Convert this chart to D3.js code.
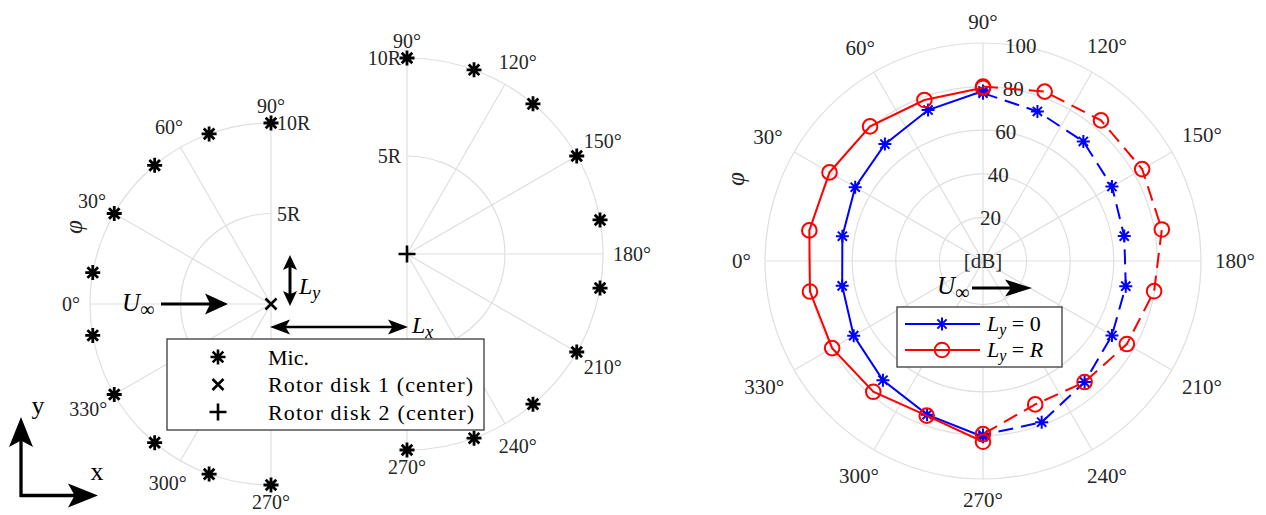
<!DOCTYPE html>
<html>
<head>
<meta charset="utf-8">
<script src="https://cdn.jsdelivr.net/npm/d3@7"></script>
<style>
  body { margin: 0; background: #fff; }
  text { font-family: "Liberation Serif", "Times New Roman", serif; }
</style>
</head>
<body>
<svg id="fig" width="1266" height="515"></svg>
<script>
// ---- data ----
var micAnglesA = [270, 290, 310, 330, 350, 10, 30, 50, 70, 90];
var micAnglesB = [90, 110, 130, 150, 170, 190, 210, 230, 250, 270];
var thetaTicksA = [270, 300, 330, 0, 30, 60, 90];
var thetaTicksB = [90, 120, 150, 180, 210, 240, 270];
var rTicksDisk = [5, 10];
var rTickLabelsDisk = ["5R", "10R"];
var legendLabelsDisk = ["Mic.", "Rotor disk 1 (center)", "Rotor disk 2 (center)"];

var thetaTicksPolar = [0, 30, 60, 90, 120, 150, 180, 210, 240, 270, 300, 330];
var rTicksPolar = [0, 20, 40, 60, 80, 100];
var rTickLabelsPolar = ["[dB]", "20", "40", "60", "80", "100"];

var phiUpstream = [270, 290, 310, 330, 350, 10, 30, 50, 70, 90];
var phiDownstream = [90, 110, 130, 150, 170, 190, 210, 230, 250, 270];
var ly0Upstream = [80.6, 75.0, 71.4, 68.5, 65.6, 65.5, 67.7, 70.0, 73.7, 78.0];
var ly0Downstream = [77.0, 73.0, 71.6, 68.3, 65.8, 66.5, 68.3, 72.5, 78.7, 79.8];
var lyRUpstream = [82.9, 75.5, 78.3, 79.9, 80.6, 80.9, 81.3, 80.6, 78.6, 79.5];
var lyRDownstream = [80.0, 82.7, 84.2, 84.3, 83.3, 79.7, 76.2, 72.5, 70.0, 79.4];

// ---- setup ----
var svg = d3.select("#fig");
var gridColor = "#dfdfdf", tickColor = "#262626";

var diskA = { cx: 271, cy: 304, r: d3.scaleLinear().domain([0, 10]).range([0, 181]) };
var diskB = { cx: 407, cy: 254, r: d3.scaleLinear().domain([0, 10]).range([0, 196]) };
var polar = { cx: 983, cy: 261, r: d3.scaleLinear().domain([0, 100]).range([0, 218]) };

// phi: 0 = left, 90 = up, 180 = right (clockwise on screen)
function toA(phi) { return (phi - 90) * Math.PI / 180; }
function pt(f, phi, v) {
  var p = d3.pointRadial(toA(phi), f.r(v));
  return [f.cx + p[0], f.cy + p[1]];
}
function halfArc(f, v, side) {
  var p = d3.path(), rr = f.r(v);
  var a0 = side === "left" ? Math.PI / 2 : -Math.PI / 2;
  p.moveTo(f.cx + rr * Math.cos(a0), f.cy + rr * Math.sin(a0));
  p.arc(f.cx, f.cy, rr, a0, a0 + Math.PI, false);
  return p.toString();
}
function placeThetaLabel(t, f, phi, rmax, pad, h) {
  var w = t.node().getComputedTextLength();
  var a = phi * Math.PI / 180, ux = -Math.cos(a), uy = -Math.sin(a);
  var d = f.r(rmax) + pad + Math.abs(ux) * w / 2 + Math.abs(uy) * h / 2;
  t.attr("x", f.cx + d * ux).attr("y", f.cy + d * uy);
}
function starPath(s) {
  var h = s / 2, d = h * 0.7071;
  return "M" + (-h) + ",0L" + h + ",0M0," + (-h) + "L0," + h +
    "M" + (-d) + "," + (-d) + "L" + d + "," + d + "M" + (-d) + "," + d + "L" + d + "," + (-d);
}
function crossPath(s) { var h = s / 2; return "M" + (-h) + "," + (-h) + "L" + h + "," + h + "M" + (-h) + "," + h + "L" + h + "," + (-h); }
function plusPath(s) { var h = s / 2; return "M" + (-h) + ",0L" + h + ",0M0," + (-h) + "L0," + h; }

function addArrow(g, x1, y1, x2, y2, o) {
  var dx = x2 - x1, dy = y2 - y1, len = Math.hypot(dx, dy);
  var ux = dx / len, uy = dy / len, nx = -uy, ny = ux, L = o.head, W = o.half;
  var sx = o.both ? x1 + ux * L * 0.7 : x1, sy = o.both ? y1 + uy * L * 0.7 : y1;
  g.append("line").attr("x1", sx).attr("y1", sy)
    .attr("x2", x2 - ux * L * 0.7).attr("y2", y2 - uy * L * 0.7)
    .attr("stroke", "#000").attr("stroke-width", o.lw);
  function head(tx, ty, vx, vy) {
    var bx = tx - vx * L, by = ty - vy * L;
    var pts = [[tx, ty], [bx + nx * W, by + ny * W], [tx - vx * L * 0.78, ty - vy * L * 0.78], [bx - nx * W, by - ny * W]];
    g.append("path").attr("d", "M" + pts.join("L") + "Z").attr("fill", "#000");
  }
  head(x2, y2, ux, uy);
  if (o.both) head(x1, y1, -ux, -uy);
}

// ---- left figure: microphone layout ----
var left = svg.append("g");

function drawDisk(f, ticks, side, labelSide) {
  var g = left.append("g");
  rTicksDisk.forEach(function(v) {
    g.append("path").attr("d", halfArc(f, v, side))
      .attr("fill", "none").attr("stroke", gridColor).attr("stroke-width", 1.2);
  });
  g.selectAll(".spoke").data(ticks).enter().append("line")
    .attr("x1", f.cx).attr("y1", f.cy)
    .attr("x2", function(d) { return pt(f, d, 10)[0]; })
    .attr("y2", function(d) { return pt(f, d, 10)[1]; })
    .attr("stroke", gridColor).attr("stroke-width", 1.2);
  ticks.forEach(function(d) {
    var t = g.append("text").text(d + "°").attr("font-size", 20).attr("fill", tickColor)
      .attr("text-anchor", "middle").attr("dominant-baseline", "central");
    placeThetaLabel(t, f, d, 10, 10, 14);
  });
  rTicksDisk.forEach(function(v, i) {
    g.append("text").text(rTickLabelsDisk[i]).attr("font-size", 20).attr("fill", tickColor)
      .attr("x", labelSide === "right" ? f.cx + 6 : f.cx - 6)
      .attr("y", f.cy - f.r(v))
      .attr("text-anchor", labelSide === "right" ? "start" : "end")
      .attr("dominant-baseline", "central");
  });
}
drawDisk(diskA, thetaTicksA, "left", "right");
drawDisk(diskB, thetaTicksB, "right", "left");

left.append("text").text("φ").attr("font-style", "italic").attr("font-size", 25)
  .attr("fill", tickColor).attr("text-anchor", "middle").attr("dominant-baseline", "central")
  .attr("transform", "translate(73,227) rotate(-90)");

// microphones
left.selectAll(".micA").data(micAnglesA).enter().append("path")
  .attr("d", starPath(15)).attr("stroke", "#000").attr("stroke-width", 2.8).attr("fill", "none")
  .attr("transform", function(d) { return "translate(" + pt(diskA, d, 10) + ")"; });
left.selectAll(".micB").data(micAnglesB).enter().append("path")
  .attr("d", starPath(15)).attr("stroke", "#000").attr("stroke-width", 2.8).attr("fill", "none")
  .attr("transform", function(d) { return "translate(" + pt(diskB, d, 10) + ")"; });

// rotor centers
left.append("path").attr("d", crossPath(11)).attr("stroke", "#000").attr("stroke-width", 2.6)
  .attr("transform", "translate(" + diskA.cx + "," + diskA.cy + ")");
left.append("path").attr("d", plusPath(17)).attr("stroke", "#000").attr("stroke-width", 2.6)
  .attr("transform", "translate(" + diskB.cx + "," + diskB.cy + ")");

// arrows and annotations
addArrow(left, 161, diskA.cy, 228, diskA.cy, { head: 23, half: 10.5, lw: 3 });
var uA = left.append("text").attr("x", 122).attr("y", 311).attr("font-size", 25);
uA.append("tspan").attr("font-style", "italic").text("U");
uA.append("tspan").attr("font-size", 20).attr("dy", 5).text("∞");

addArrow(left, 290, diskB.cy + 1, 290, diskA.cy + 2, { head: 15, half: 7, lw: 3, both: true });
var ly = left.append("text").attr("x", 299).attr("y", 294).attr("font-size", 24).attr("font-style", "italic");
ly.append("tspan").text("L");
ly.append("tspan").attr("font-size", 18).attr("dy", 5).text("y");

addArrow(left, diskA.cx - 1, 327, diskB.cx + 1, 327, { head: 20, half: 7.5, lw: 2.6, both: true });
var lx = left.append("text").attr("x", 412).attr("y", 333).attr("font-size", 24).attr("font-style", "italic");
lx.append("tspan").text("L");
lx.append("tspan").attr("font-size", 18).attr("dy", 5).text("x");

// coordinate system
addArrow(left, 21, 497, 21, 417, { head: 30, half: 12, lw: 3.3 });
addArrow(left, 20, 495.5, 98, 495.5, { head: 30, half: 12, lw: 3.3 });
left.append("text").text("y").attr("x", 38).attr("y", 414).attr("font-size", 26).attr("text-anchor", "middle");
left.append("text").text("x").attr("x", 97).attr("y", 480).attr("font-size", 26).attr("text-anchor", "middle");

// legend
var legA = left.append("g");
legA.append("rect").attr("x", 167).attr("y", 339).attr("width", 317).attr("height", 91)
  .attr("fill", "#fff").attr("stroke", "#3a3a3a").attr("stroke-width", 1.3);
var legMarks = [starPath(15), crossPath(11), plusPath(17)];
var legWidths = [null, 205, 206];
legendLabelsDisk.forEach(function(lab, i) {
  var y = 357 + i * 27.5;
  legA.append("path").attr("d", legMarks[i]).attr("stroke", "#000").attr("stroke-width", 2.6)
    .attr("fill", "none").attr("transform", "translate(218," + y + ")");
  legA.append("text").text(lab).attr("x", 268).attr("y", y).attr("font-size", 22)
    .attr("dominant-baseline", "central").attr("fill", "#000")
    .attr("textLength", legWidths[i]);
});

// ---- right figure: polar SPL ----
var right = svg.append("g");
rTicksPolar.filter(function(v) { return v > 0; }).forEach(function(v) {
  right.append("circle").attr("cx", polar.cx).attr("cy", polar.cy).attr("r", polar.r(v))
    .attr("fill", "none").attr("stroke", gridColor).attr("stroke-width", 1.2);
});
right.selectAll(".spoke").data(thetaTicksPolar).enter().append("line")
  .attr("x1", polar.cx).attr("y1", polar.cy)
  .attr("x2", function(d) { return pt(polar, d, 100)[0]; })
  .attr("y2", function(d) { return pt(polar, d, 100)[1]; })
  .attr("stroke", gridColor).attr("stroke-width", 1.2);
thetaTicksPolar.forEach(function(d) {
  var t = right.append("text").text(d + "°").attr("font-size", 21).attr("fill", tickColor)
    .attr("text-anchor", "middle").attr("dominant-baseline", "central");
  placeThetaLabel(t, polar, d, 100, 14, 14);
});
rTicksPolar.forEach(function(v, i) {
  var p = pt(polar, 100, v);
  right.append("text").text(rTickLabelsPolar[i]).attr("x", p[0]).attr("y", p[1])
    .attr("font-size", 21).attr("fill", tickColor)
    .attr("text-anchor", "middle").attr("dominant-baseline", "central");
});
right.append("text").text("φ").attr("font-style", "italic").attr("font-size", 25)
  .attr("fill", tickColor).attr("text-anchor", "middle").attr("dominant-baseline", "central")
  .attr("transform", "translate(735,179) rotate(-90)");

var radial = d3.lineRadial()
  .angle(function(d) { return toA(d.phi); })
  .radius(function(d) { return polar.r(d.v); });
function zipData(phis, vals) { return phis.map(function(p, i) { return { phi: p, v: vals[i] }; }); }

var series = [
  { color: "#0000ff", mark: "star", up: ly0Upstream, down: ly0Downstream },
  { color: "#ff0000", mark: "circle", up: lyRUpstream, down: lyRDownstream }
];
var plotG = right.append("g").attr("transform", "translate(" + polar.cx + "," + polar.cy + ")");
series.forEach(function(s) {
  var up = zipData(phiUpstream, s.up), down = zipData(phiDownstream, s.down);
  plotG.append("path").attr("d", radial(up)).attr("fill", "none")
    .attr("stroke", s.color).attr("stroke-width", 2);
  plotG.append("path").attr("d", radial(down)).attr("fill", "none")
    .attr("stroke", s.color).attr("stroke-width", 2).attr("stroke-dasharray", "15,8");
  up.concat(down).forEach(function(d) {
    var p = d3.pointRadial(toA(d.phi), polar.r(d.v));
    if (s.mark === "star") {
      plotG.append("path").attr("d", starPath(13)).attr("transform", "translate(" + p + ")")
        .attr("stroke", s.color).attr("stroke-width", 2).attr("fill", "none");
    } else {
      plotG.append("circle").attr("cx", p[0]).attr("cy", p[1]).attr("r", 7.3)
        .attr("stroke", s.color).attr("stroke-width", 2).attr("fill", "none");
    }
  });
});

// U-infinity arrow
addArrow(right, 972, 288, 1032, 288, { head: 27, half: 8.5, lw: 3 });
var uB = right.append("text").attr("x", 937).attr("y", 294).attr("font-size", 25);
uB.append("tspan").attr("font-style", "italic").text("U");
uB.append("tspan").attr("font-size", 20).attr("dy", 5).text("∞");

// legend
var legB = right.append("g");
legB.append("rect").attr("x", 897).attr("y", 307).attr("width", 165).attr("height", 60)
  .attr("fill", "#fff").attr("stroke", "#3a3a3a").attr("stroke-width", 1.3);
series.forEach(function(s, i) {
  var y = 324 + i * 26;
  legB.append("line").attr("x1", 905).attr("x2", 980).attr("y1", y).attr("y2", y)
    .attr("stroke", s.color).attr("stroke-width", 2);
  if (s.mark === "star") {
    legB.append("path").attr("d", starPath(13)).attr("transform", "translate(942," + y + ")")
      .attr("stroke", s.color).attr("stroke-width", 2).attr("fill", "none");
  } else {
    legB.append("circle").attr("cx", 942).attr("cy", y).attr("r", 7.3)
      .attr("stroke", s.color).attr("stroke-width", 2).attr("fill", "none");
  }
  var t = legB.append("text").attr("x", 987).attr("y", y + 7).attr("font-size", 22);
  t.append("tspan").attr("font-style", "italic").text("L");
  t.append("tspan").attr("font-style", "italic").attr("font-size", 16).attr("dy", 4).text("y");
  t.append("tspan").attr("dy", -4).text(" = ");
  t.append("tspan").attr("font-style", i === 0 ? "normal" : "italic").text(i === 0 ? "0" : "R");
});
</script>
</body>
</html>
